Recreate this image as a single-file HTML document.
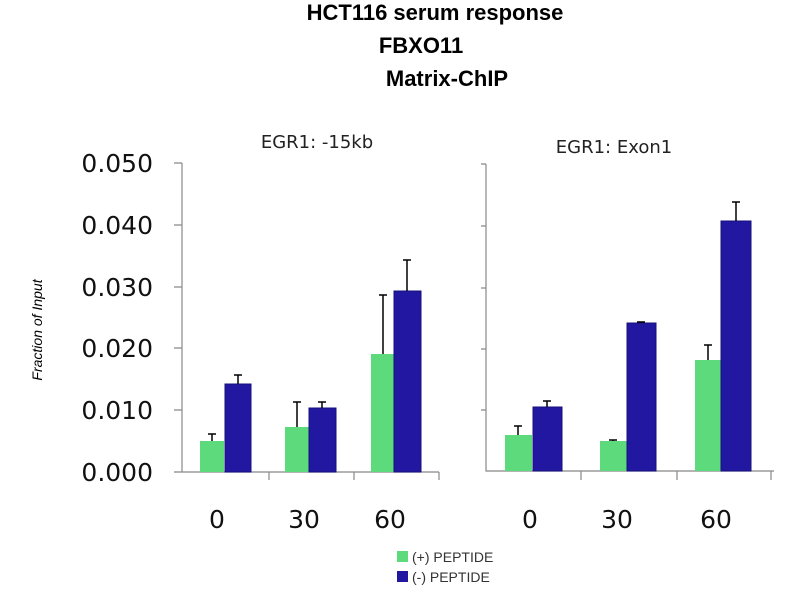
<!DOCTYPE html><html><head><style>body{margin:0;background:#fff}</style></head><body>
<svg width="800" height="600" xmlns="http://www.w3.org/2000/svg" style="display:block">
<g font-family="Liberation Sans, sans-serif" font-weight="bold" fill="#000" text-anchor="middle">
<text x="435" y="20" font-size="22">HCT116 serum response</text>
<text x="421" y="53" font-size="22">FBXO11</text>
<text x="447" y="86" font-size="22">Matrix-ChIP</text>
</g>
<g font-family="DejaVu Sans, sans-serif" font-size="18" fill="#222" text-anchor="middle">
<text x="317" y="148">EGR1: -15kb</text>
<text x="614" y="153">EGR1: Exon1</text>
</g>
<text transform="translate(42,330) rotate(-90)" font-family="Liberation Sans, sans-serif" font-style="italic" font-size="14" text-anchor="middle">Fraction of Input</text>
<g font-family="DejaVu Sans, sans-serif" font-size="25" text-anchor="end" fill="#111">
<text x="153" y="172">0.050</text><text x="153" y="234">0.040</text><text x="153" y="296">0.030</text>
<text x="153" y="357">0.020</text><text x="153" y="419">0.010</text><text x="153" y="481">0.000</text>
</g>
<g font-family="DejaVu Sans, sans-serif" font-size="25" text-anchor="middle" fill="#111">
<text x="217" y="528">0</text><text x="304" y="528">30</text><text x="390" y="528">60</text>
<text x="530" y="528">0</text><text x="617" y="528">30</text><text x="716" y="528">60</text>
</g>
<g stroke="#888" stroke-width="1.2" fill="none">
<path d="M182 163V472H439M174 163H182M174 225H182M174 287H182M174 348H182M174 410H182M174 472H182M269 472V480M354 472V480M439 472V480"/>
<path d="M486 164V471H774M481 164H486M481 226H486M481 288H486M481 349H486M481 410H486M581 471V480M677 471V480M771 471V480"/>
</g>
<g fill="#5ddb7c">
<rect x="200" y="441" width="24" height="31"/><rect x="285" y="427" width="24" height="45"/><rect x="371" y="354" width="23" height="118"/>
<rect x="505" y="435" width="27" height="36"/><rect x="600" y="441" width="27" height="30"/><rect x="695" y="360" width="26" height="111"/>
</g>
<g fill="#2117a0" stroke="#15107a" stroke-width="1">
<rect x="225" y="384" width="26" height="88"/><rect x="309" y="408" width="27" height="64"/><rect x="394" y="291" width="27" height="181"/>
<rect x="533" y="407" width="29" height="64"/><rect x="627" y="323" width="29" height="148"/><rect x="721" y="221" width="30" height="250"/>
</g>
<g stroke="#000" stroke-width="1.5" fill="none">
<path d="M212 441V434M208 434H216M238 384V375M234 375H242M297 427V402M293 402H301M322 408V402M318 402H326M383 354V295M379 295H387M407 291V260M403 260H411"/>
<path d="M518 435V426M514 426H522M547 407V401M543 401H551M613 441V440M609 440H617M641 323V322M637 322H645M708 360V345M704 345H712M736 221V202M732 202H740"/>
</g>
<rect x="397" y="551" width="11" height="11" fill="#5ddb7c"/>
<rect x="397" y="571" width="11" height="11" fill="#2117a0"/>
<g font-family="Liberation Sans, sans-serif" font-size="14" fill="#333">
<text x="412" y="562">(+) PEPTIDE</text><text x="412" y="582">(-) PEPTIDE</text>
</g>
</svg></body></html>
